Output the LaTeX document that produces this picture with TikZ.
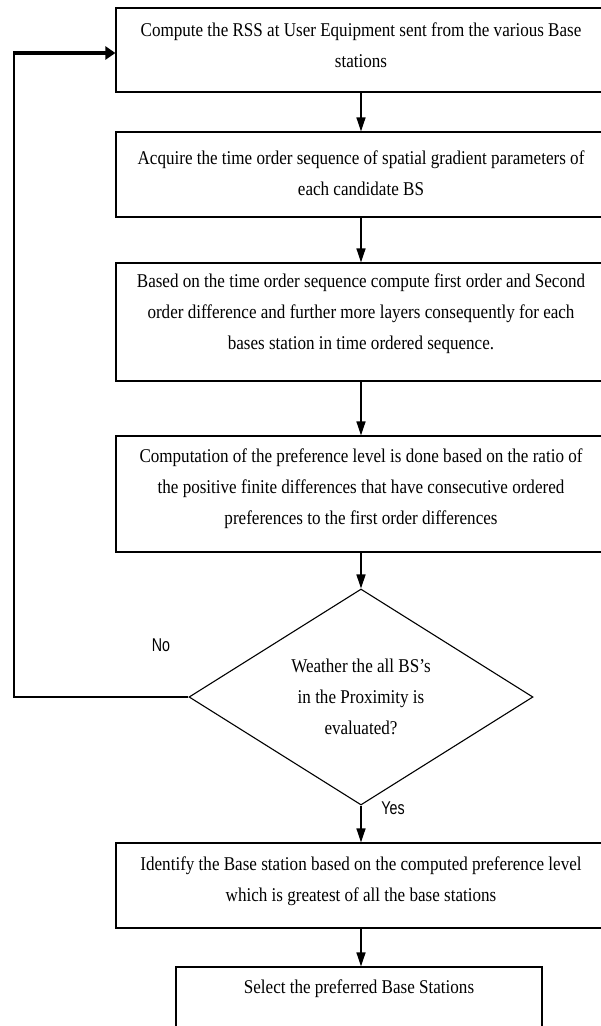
\documentclass[tikz,border=0pt]{standalone}
\usepackage{fontspec}
\setmainfont{Liberation Serif}[FakeStretch=0.875]
\newfontfamily\labelfont{Liberation Sans}[FakeStretch=0.77]
\usetikzlibrary{shapes.geometric,arrows.meta}
\tikzset{
  procbox/.style={draw=black, line width=1.2pt, minimum width=490pt, inner sep=0pt, fill=none},
  boxtext/.style={font=\fontsize{19.5}{31}\selectfont, align=center, inner sep=0pt},
  decision/.style={draw=black, line width=1.1pt, diamond, aspect=1.6, minimum width=344pt, minimum height=216pt, inner sep=0pt, font=\fontsize{19.5}{31}\selectfont, align=center},
  flowarrow/.style={line width=1.5pt, -{Triangle[length=14pt,width=9pt]}},
  backline/.style={line width=1.4pt},
  backarrow/.style={line width=3.5pt, -{Triangle[length=10pt,width=13pt]}},
  answer/.style={font=\labelfont\fontsize{18.5}{20}\selectfont, inner sep=0pt}
}
\begin{document}
\begin{tikzpicture}[x=1pt, y=-1pt]
\useasboundingbox (0,0) rectangle (601,1026);
\clip (0,0) rectangle (601,1026);
\fill[white] (0,0) rectangle (601,1026);

% boxes
\node[procbox, minimum height=84pt] (b1) at (361,50) {};
\node[boxtext] (t1) at (361,45) {Compute the RSS at User Equipment sent from the various Base\\stations};

\node[procbox, minimum height=85pt] (b2) at (361,174.5) {};
\node[boxtext] (t2) at (361,173) {Acquire the time order sequence of spatial gradient parameters of\\each candidate BS};

\node[procbox, minimum height=118pt] (b3) at (361,322) {};
\node[boxtext] (t3) at (361,313.5) {Based on the time order sequence compute first order and Second\\order difference and further more layers consequently for each\\bases station in time ordered sequence.};

\node[procbox, minimum height=116pt] (b4) at (361,494) {};
\node[boxtext] (t4) at (361,489) {Computation of the preference level is done based on the ratio of\\the positive finite differences that have consecutive ordered\\preferences to the first order differences};

\node[decision] (d) at (361,697) {Weather the all BS’s\\in the Proximity is\\evaluated?};

\node[procbox, minimum height=85pt] (b5) at (361,885.5) {};
\node[boxtext] (t5) at (361,881.5) {Identify the Base station based on the computed preference level\\which is greatest of all the base stations};

\node[procbox, minimum width=366pt, minimum height=78pt] (b6) at (359,1006) {};
\node[boxtext] (t6) at (359,989) {Select the preferred Base Stations};

% labels
\node[answer] (no) at (161,645) {No};
\node[answer] (yes) at (393,808) {Yes};

% connectors
\draw[flowarrow] (b1.south) -- (b2.north);
\draw[flowarrow] (b2.south) -- (b3.north);
\draw[flowarrow] (b3.south) -- (b4.north);
\draw[flowarrow] (b4.south) -- (d.north);
\draw[flowarrow] (d.south) -- (b5.north);
\draw[flowarrow] (b5.south) -- (b5.south |- b6.north);

% feedback loop
\coordinate (fbcorner) at (14,53);
\draw[backline] (d.west) -| (fbcorner);
\draw[backarrow] ([xshift=-0.7pt]fbcorner) -- (fbcorner -| b1.west);
\end{tikzpicture}
\end{document}
